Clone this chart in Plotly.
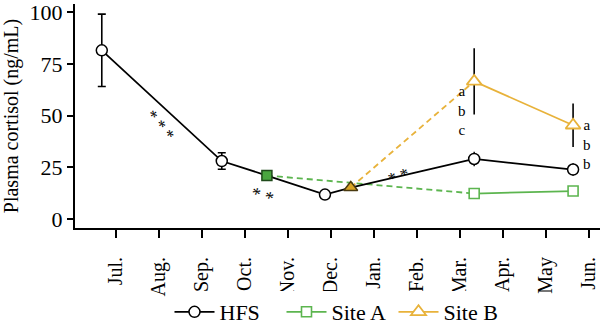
import math
import plotly.graph_objects as go

# ---------------- data ----------------
month_labels = ["Jul.", "Aug.", "Sep.", "Oct.", "Nov.", "Dec.", "Jan.", "Feb.", "Mar.", "Apr.", "May", "Jun."]
month_pos = list(range(1, 13))

# HFS (sampling times in month units, Jul.=1)
hfs_x = [0.67, 3.46, 4.51, 5.86, 6.46, 9.33, 11.63]
hfs_y = [81.5, 28.0, 21.0, 11.8, 15.2, 29.0, 23.9]
# error bars for HFS (with caps: first two; without caps: last two)
hfs_err_cap_x = [0.67, 3.46]
hfs_err_cap_y = [81.5, 28.0]
hfs_err_cap = [17.5, 4.0]
hfs_err_nocap_x = [9.33, 11.63]
hfs_err_nocap_y = [29.0, 23.9]
hfs_err_nocap = [3.5, 3.0]

# Site A
siteA_transfer_x = [4.51, 9.33]
siteA_transfer_y = [21.0, 12.3]
siteA_x = [9.33, 11.63]
siteA_y = [12.3, 13.5]

# Site B
siteB_transfer_x = [6.46, 9.33]
siteB_transfer_y = [15.2, 66.5]
siteB_x = [9.33, 11.63]
siteB_y = [66.5, 45.3]
siteB_err = [16.0, 10.5]

# significance labels (groups of asterisks, laid along a slanted line)
star_text = ["* * *", "* *", "* *"]
star_x = [2.116, 4.453, 7.535]
star_y = [46.8, 13.6, 22.8]
star_angle = [49.9, 17.1, -18.4]
star_size = [17, 18, 17]
letter_text = ["a<br>b<br>c", "a<br>b<br>b"]
letter_x = [9.05, 11.95]
letter_y = [52.6, 35.8]

GREEN = "#5cb54f"
GREEN_FILL = "#4aa63f"
ORANGE = "#e8b23a"
ORANGE_FILL = "#d9a424"
SERIF = "Liberation Serif"

fig = go.Figure()

# dashed transfer lines
fig.add_trace(go.Scatter(x=siteA_transfer_x, y=siteA_transfer_y, mode="lines",
                         line=dict(color=GREEN, width=1.8, dash="6px,4px"),
                         showlegend=False, hoverinfo="skip"))
fig.add_trace(go.Scatter(x=siteB_transfer_x, y=siteB_transfer_y, mode="lines",
                         line=dict(color=ORANGE, width=1.8, dash="6px,4px"),
                         showlegend=False, hoverinfo="skip"))

# HFS error bars
fig.add_trace(go.Scatter(x=hfs_err_cap_x, y=hfs_err_cap_y, mode="markers",
                         marker=dict(size=1, opacity=0),
                         error_y=dict(type="data", array=hfs_err_cap, color="black",
                                      thickness=1.6, width=4),
                         showlegend=False, hoverinfo="skip"))
fig.add_trace(go.Scatter(x=hfs_err_nocap_x, y=hfs_err_nocap_y, mode="markers",
                         marker=dict(size=1, opacity=0),
                         error_y=dict(type="data", array=hfs_err_nocap, color="black",
                                      thickness=1.4, width=0),
                         showlegend=False, hoverinfo="skip"))
# Site B error bars
fig.add_trace(go.Scatter(x=siteB_x, y=siteB_y, mode="markers",
                         marker=dict(size=1, opacity=0),
                         error_y=dict(type="data", array=siteB_err, color="black",
                                      thickness=1.6, width=0),
                         showlegend=False, hoverinfo="skip"))

# HFS
hfs_symbols = ["circle", "circle", "square", "circle", "triangle-up", "circle", "circle"]
hfs_fill = ["white", "white", GREEN_FILL, "white", ORANGE_FILL, "white", "white"]
hfs_edge = ["black", "black", "#1f4a1a", "black", "#4a3a10", "black", "black"]
hfs_size = [11, 11, 10, 11, 12, 11, 11]
fig.add_trace(go.Scatter(x=hfs_x, y=hfs_y, mode="lines+markers", name="HFS",
                         line=dict(color="black", width=1.8),
                         marker=dict(symbol=hfs_symbols, color=hfs_fill, size=hfs_size,
                                     opacity=1, line=dict(color=hfs_edge, width=1.5))))
# Site A
fig.add_trace(go.Scatter(x=siteA_x, y=siteA_y, mode="lines+markers", name="Site A",
                         line=dict(color=GREEN, width=1.8),
                         marker=dict(symbol="square", color="white", size=10, opacity=1,
                                     line=dict(color=GREEN, width=1.6))))
# Site B
fig.add_trace(go.Scatter(x=siteB_x, y=siteB_y, mode="lines+markers", name="Site B",
                         line=dict(color=ORANGE, width=1.8),
                         marker=dict(symbol="triangle-up", color="white", size=13, opacity=1,
                                     line=dict(color=ORANGE, width=1.8))))

for t, sx, sy, ang, fs in zip(star_text, star_x, star_y, star_angle, star_size):
    d = 0.3 * fs  # asterisk glyph sits above the text-box centre
    th = math.radians(ang)
    fig.add_annotation(x=sx, y=sy, text=t, showarrow=False, textangle=ang,
                       xshift=-d * math.sin(th), yshift=-d * math.cos(th),
                       font=dict(family=SERIF, size=fs, color="black"))
for t, lx, ly in zip(letter_text, letter_x, letter_y):
    fig.add_annotation(x=lx, y=ly, text=t, showarrow=False,
                       font=dict(family=SERIF, size=15, color="black"))

fig.update_layout(
    width=600, height=333,
    margin=dict(l=75, r=0, t=0, b=97),
    paper_bgcolor="white", plot_bgcolor="white",
    font=dict(family=SERIF, size=18, color="black"),
    showlegend=True,
    legend=dict(orientation="h", x=0.5, xanchor="center", y=-0.377, yanchor="middle",
                font=dict(family=SERIF, size=22), itemwidth=40, tracegroupgap=0,
                entrywidth=57),
)
fig.update_xaxes(range=[0.047, 12.256], tickmode="array", tickvals=month_pos,
                 ticktext=month_labels, tickangle=-90, ticks="outside", ticklen=8,
                 tickwidth=1.8, tickcolor="black", showline=True, linecolor="black",
                 linewidth=2, showgrid=False, zeroline=False, ticklabelstandoff=11,
                 tickfont=dict(family=SERIF, size=20))
fig.update_yaxes(range=[-4.36, 103.9], tickvals=[0, 25, 50, 75, 100], ticks="outside",
                 ticklen=6, tickwidth=1.8, tickcolor="black", showline=True,
                 linecolor="black", linewidth=2, showgrid=False, zeroline=False,
                 ticklabeloverflow="allow", tickfont=dict(family=SERIF, size=22),
                 title=dict(text="Plasma cortisol (ng/mL)", font=dict(family=SERIF, size=20),
                            standoff=10))

fig.write_html("out.html")
